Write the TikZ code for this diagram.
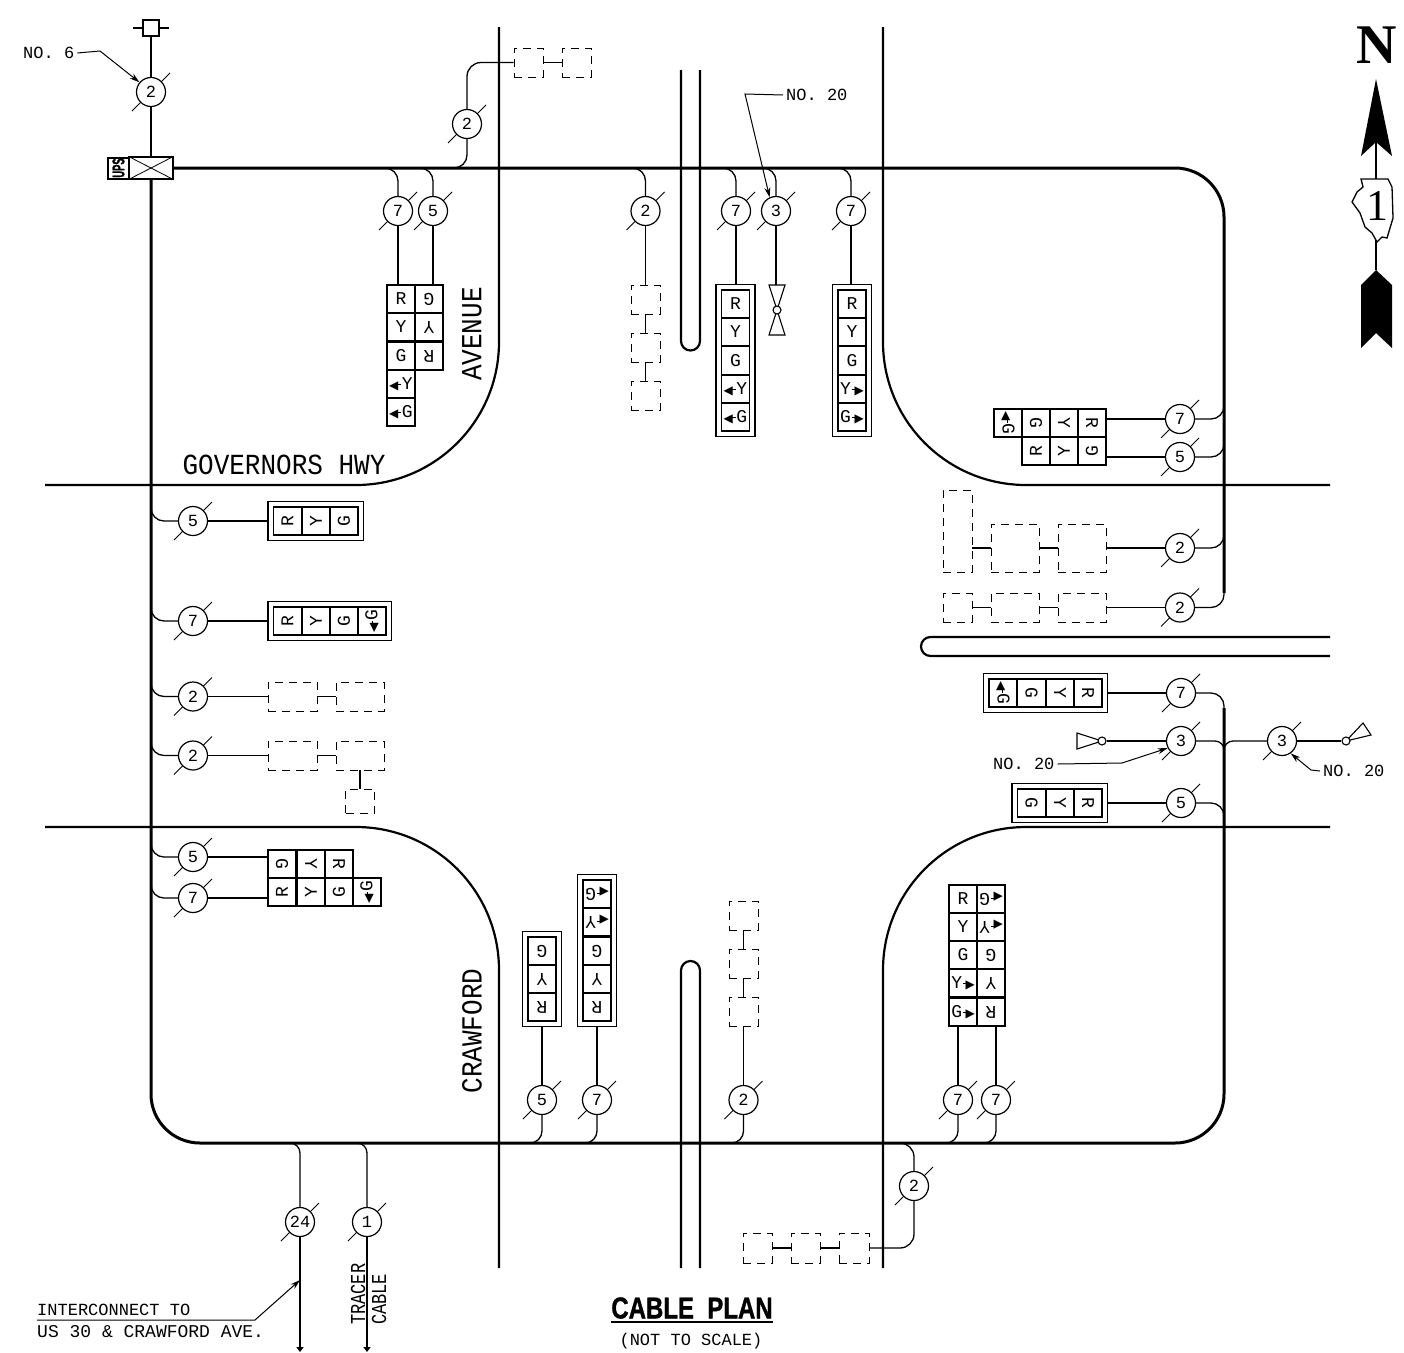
\documentclass[tikz,border=0pt]{standalone}
\usepackage{fontspec}
\setmainfont{Liberation Mono}
\newfontfamily\arrowfont{DejaVu Sans}
\newfontfamily\serifface{Liberation Serif}
\newfontfamily\titleface[UprightFont={* Bold},FakeBold=1.3]{Liberation Sans}
\usetikzlibrary{arrows.meta,calc,fit}

\newcommand{\sz}[1]{\fontsize{#1}{#1}\selectfont}
\newcommand{\larr}[1]{{\arrowfont\sz{12}\symbol{"25C0}}\kern-2pt\rule[4pt]{5pt}{1.6pt}\kern.5pt #1}
\newcommand{\rarr}[1]{#1\kern.5pt\rule[4pt]{5pt}{1.6pt}\kern-2pt{\arrowfont\sz{12}\symbol{"25B6}}}

\tikzset{
  conduit/.style={line width=3pt},
  road/.style={line width=2.2pt},
  cable/.style={line width=1.3pt},
  leader/.style={line width=1pt,-{Stealth[length=10pt,width=6pt]}},
  tag/.style={circle,draw,line width=1.2pt,fill=white,minimum size=29pt,inner sep=0pt,font=\sz{17}},
  sigcell/.style={draw,line width=1.7pt,minimum size=28pt,inner sep=0pt,font=\sz{18}},
  plate/.style={draw,line width=1.6pt,inner sep=4.5pt},
  ghost/.style={draw,line width=.9pt,dash pattern=on 8pt off 6pt,inner sep=0pt},
  label/.style={inner sep=0pt,inner xsep=3pt,font=\sz{17}},
  street/.style={inner sep=0pt,font=\sz{26},yscale=1.12},
  tall/.style={inner sep=0pt,font=\sz{17},yscale=1.25}
}

\newcommand{\cabletag}[4]{
  \draw[line width=1pt] (#2-19,#3+19) -- (#2+19,#3-19);
  \node[tag] (#1) at (#2,#3) {#4};
}
\newcommand{\branchtop}[1]{\draw[cable,rounded corners=13pt] (#1.north) |- ($(#1 |- ctop)+(-13,0)$);}
\newcommand{\branchbot}[1]{\draw[cable,rounded corners=12pt] (#1.south) |- ($(#1 |- cbot)+(-12,0)$);}
\newcommand{\branchwest}[1]{\draw[cable,rounded corners=13pt] (#1.west) -| ($(cleft |- #1)+(0,-14)$);}
\newcommand{\brancheast}[2]{\draw[cable,rounded corners=13pt] (#1.east) -| ($(cright |- #1)+(0,#2)$);}

\begin{document}
\begin{tikzpicture}[x=1pt,y=-1pt]
  \useasboundingbox (0,0) rectangle (1404,1352);

  \coordinate (ctop) at (0,168);
  \coordinate (cbot) at (0,1143);
  \coordinate (cleft) at (151,0);
  \coordinate (cright) at (1224,0);
  \coordinate (neend) at (1224,593);
  \coordinate (seend) at (1224,708);

  % roads
  \draw[road,rounded corners=143pt] (499,27) |- (45,485);
  \draw[road,rounded corners=143pt] (883,27) |- (1330,485);
  \draw[road,rounded corners=143pt] (45,827) -| (499,1268);
  \draw[road,rounded corners=143pt] (1330,827) -| (883,1268);
  \draw[road,rounded corners=9.5pt] (681,70) -- (681,350.5) -- (700,350.5) -- (700,70);
  \draw[road,rounded corners=9.5pt] (681,1268) -- (681,961) -- (700,961) -- (700,1268);
  \draw[road,rounded corners=9.5pt] (1330,637) -- (921,637) -- (921,656) -- (1330,656);

  \node[rotate=90,street] (avenue) at (472,334) {AVENUE};
  \node[rotate=90,street] (crawford) at (472,1031) {CRAWFORD};
  \node[street] (governors) at (284,465) {GOVERNORS HWY};

  % controller and conduit
  \node[draw,line width=1.1pt,minimum width=44pt,minimum height=22pt,inner sep=0pt] (jbox) at (151,168) {};
  \draw[line width=.8pt] (jbox.north west) -- (jbox.south east);
  \draw[line width=.8pt] (jbox.south west) -- (jbox.north east);
  \node[draw,line width=2pt,minimum width=21pt,minimum height=21pt,inner sep=0pt] (ups) at (118.5,168) {};
  \node[rotate=90,xscale=.55,inner sep=0pt,font=\titleface\sz{17}] (upstext) at (ups) {UPS};
  \draw[conduit,rounded corners=49pt] (jbox.east) -- (cright |- ctop) -- (neend);
  \draw[conduit,rounded corners=49pt] (seend) -- (cright |- cbot) -- (cleft |- cbot) -- (jbox.south);

  % service
  \node[draw,line width=1.2pt,minimum size=16pt,inner sep=0pt] (service) at (151,28) {};
  \draw[cable] (service.west) -- ++(-9,0);
  \draw[cable] (service.east) -- ++(9,0);
  \cabletag{tagsvc}{151}{92}{2}
  \draw[cable] (service) -- (tagsvc);
  \draw[cable] (tagsvc) -- (jbox);
  \node[label,anchor=west] (no6) at (20,53) {NO. 6};
  \coordinate (no6bend) at (100,51);
  \draw[leader] (no6.east) -- (no6bend) -- (tagsvc.140);

  % north approach
  \cabletag{tagna}{467}{124}{2}
  \node[ghost,minimum width=29pt,minimum height=29pt] (gna) at (528.5,62.5) {};
  \node[ghost,minimum width=29pt,minimum height=29pt] (gnb) at (576.5,62.5) {};
  \draw[cable,rounded corners=14pt] (tagna.north) |- (gna.west);
  \draw[cable] (gna) -- (gnb);
  \draw[cable,rounded corners=13pt] (tagna.south) |- ($(tagna |- ctop)+(-13,0)$);

  \cabletag{tagnb}{398}{211}{7}
  \cabletag{tagnc}{433}{211}{5}
  \branchtop{tagnb}
  \branchtop{tagnc}
  \node[sigcell] (nwa) at (401,299) {R};
  \node[sigcell] (nwb) at (401,327) {Y};
  \node[sigcell] (nwc) at (401,356) {G};
  \node[sigcell] (nwd) at (401,384) {\larr{Y}};
  \node[sigcell] (nwe) at (401,412) {\larr{G}};
  \node[sigcell,rotate=180] (nwf) at (429,299) {G};
  \node[sigcell,rotate=180] (nwg) at (429,327) {Y};
  \node[sigcell,rotate=180] (nwh) at (429,356) {R};
  \draw[cable] (tagnb.south) -- (tagnb.south |- nwa.north);
  \draw[cable] (tagnc.south) -- (tagnc.south |- nwf.south);

  \cabletag{tagnd}{645.5}{211}{2}
  \branchtop{tagnd}
  \node[ghost,minimum width=29pt,minimum height=29pt] (gnc) at (645.5,299.5) {};
  \node[ghost,minimum width=29pt,minimum height=29pt] (gnd) at (645.5,347.5) {};
  \node[ghost,minimum width=29pt,minimum height=29pt] (gne) at (645.5,395.5) {};
  \draw[cable] (tagnd) -- (gnc);
  \draw[cable] (gnc) -- (gnd);
  \draw[cable] (gnd) -- (gne);

  \cabletag{tagne}{736}{211}{7}
  \branchtop{tagne}
  \node[sigcell] (naa) at (735.5,304) {R};
  \node[sigcell] (nab) at (735.5,332) {Y};
  \node[sigcell] (nac) at (735.5,360.5) {G};
  \node[sigcell] (nad) at (735.5,389) {\larr{Y}};
  \node[sigcell] (nae) at (735.5,417) {\larr{G}};
  \node[plate,fit=(naa)(nae)] (platena) {};
  \draw[cable] (tagne.south) -- (tagne.south |- platena.north);

  \cabletag{tagnf}{776}{211}{3}
  \branchtop{tagnf}
  \coordinate (pednt) at (777,285);
  \draw[cable] (tagnf.south) -- (tagnf.south |- pednt);
  \draw[line width=1.1pt] (769,285) -- (785,285) -- (769,335) -- (785,335) -- cycle;
  \node[circle,draw,line width=1.1pt,fill=white,minimum size=8pt,inner sep=0pt] (pedn) at (777,310) {};
  \node[label,anchor=west] (no20n) at (783,95) {NO. 20};
  \coordinate (no20nbend) at (745,94);
  \draw[leader] (no20n.west) -- (no20nbend) -- (tagnf.115);

  \cabletag{tagng}{851}{211}{7}
  \branchtop{tagng}
  \node[sigcell] (nba) at (852,304) {R};
  \node[sigcell] (nbb) at (852,332) {Y};
  \node[sigcell] (nbc) at (852,360.5) {G};
  \node[sigcell] (nbd) at (852,389) {\rarr{Y}};
  \node[sigcell] (nbe) at (852,417) {\rarr{G}};
  \node[plate,fit=(nba)(nbe)] (platenb) {};
  \draw[cable] (tagng.south) -- (tagng.south |- platenb.north);

  % east approach
  \cabletag{tagea}{1180}{419}{7}
  \cabletag{tageb}{1180}{457}{5}
  \brancheast{tagea}{-15}
  \brancheast{tageb}{-15}
  \node[sigcell,rotate=-90] (nea) at (1008,423) {\larr{G}};
  \node[sigcell,rotate=-90] (neb) at (1036,423) {G};
  \node[sigcell,rotate=-90] (nec) at (1064,423) {Y};
  \node[sigcell,rotate=-90] (ned) at (1092,423) {R};
  \node[sigcell,rotate=90] (nee) at (1036,451) {R};
  \node[sigcell,rotate=90] (nef) at (1064,451) {Y};
  \node[sigcell,rotate=90] (neg) at (1092,451) {G};
  \draw[cable] (tagea.west) -- (tagea.west -| ned.north);
  \draw[cable] (tageb.west) -- (tageb.west -| neg.south);

  \cabletag{tagec}{1180}{548}{2}
  \brancheast{tagec}{-15}
  \node[ghost,minimum width=29pt,minimum height=82pt] (gea) at (957.5,531) {};
  \node[ghost,minimum width=48pt,minimum height=48pt] (geb) at (1015,548) {};
  \node[ghost,minimum width=48pt,minimum height=48pt] (gec) at (1082,548) {};
  \draw[cable] (gea.east |- geb) -- (geb);
  \draw[cable] (geb) -- (gec);
  \draw[cable] (gec) -- (tagec);

  \cabletag{taged}{1180}{607.5}{2}
  \brancheast{taged}{-15}
  \node[ghost,minimum width=29pt,minimum height=29pt] (ged) at (957.5,607.5) {};
  \node[ghost,minimum width=48pt,minimum height=29pt] (gee) at (1015,607.5) {};
  \node[ghost,minimum width=48pt,minimum height=29pt] (gef) at (1082,607.5) {};
  \draw[cable] (ged) -- (gee);
  \draw[cable] (gee) -- (gef);
  \draw[cable] (gef) -- (taged);

  \cabletag{tagee}{1181}{693}{7}
  \brancheast{tagee}{15}
  \node[sigcell,rotate=-90] (eaa) at (1003,693) {\larr{G}};
  \node[sigcell,rotate=-90] (eab) at (1031.5,693) {G};
  \node[sigcell,rotate=-90] (eac) at (1060,693) {Y};
  \node[sigcell,rotate=-90] (ead) at (1088,693) {R};
  \node[plate,fit=(eaa)(ead)] (plateea) {};
  \draw[cable] (plateea) -- (tagee);

  \cabletag{tagef}{1181}{741}{3}
  \draw[cable,rounded corners=9pt] (tagef.east) -| ($(cright |- tagef)+(0,9)$);
  \draw[line width=1.1pt] (1102,741) -- (1077,733) -- (1077,749) -- cycle;
  \node[circle,draw,line width=1.1pt,fill=white,minimum size=8pt,inner sep=0pt] (pede) at (1102,741) {};
  \draw[cable] (pede) -- (tagef);
  \node[label,anchor=west] (no20e) at (990,764) {NO. 20};
  \coordinate (no20ebend) at (1122,763);
  \draw[leader] (no20e.east) -- (no20ebend) -- (tagef.208);

  \cabletag{tageg}{1282}{741}{3}
  \draw[cable,rounded corners=9pt] (tageg.west) -| ($(cright |- tageg)+(0,9)$);
  \draw[line width=1.1pt] (1346,741) -- (1363,723) -- (1371,735) -- cycle;
  \node[circle,draw,line width=1.1pt,fill=white,minimum size=8pt,inner sep=0pt] (pedf) at (1346,741) {};
  \draw[cable] (tageg) -- (pedf);
  \node[label,anchor=west] (no20f) at (1320,771) {NO. 20};
  \coordinate (no20fbend) at (1311,770);
  \draw[leader] (no20f.west) -- (no20fbend) -- (tageg.-55);

  \cabletag{tageh}{1181}{803}{5}
  \brancheast{tageh}{15}
  \node[sigcell,rotate=-90] (eba) at (1031.5,803) {G};
  \node[sigcell,rotate=-90] (ebb) at (1060,803) {Y};
  \node[sigcell,rotate=-90] (ebc) at (1088,803) {R};
  \node[plate,fit=(eba)(ebc)] (plateeb) {};
  \draw[cable] (plateeb) -- (tageh);

  % west approach
  \cabletag{tagwa}{193}{521}{5}
  \branchwest{tagwa}
  \node[sigcell,rotate=90] (waa) at (287.5,521) {R};
  \node[sigcell,rotate=90] (wab) at (316,521) {Y};
  \node[sigcell,rotate=90] (wac) at (344,521) {G};
  \node[plate,fit=(waa)(wac)] (platewa) {};
  \draw[cable] (tagwa) -- (platewa);

  \cabletag{tagwb}{193}{621}{7}
  \branchwest{tagwb}
  \node[sigcell,rotate=90] (wba) at (287.5,621) {R};
  \node[sigcell,rotate=90] (wbb) at (316,621) {Y};
  \node[sigcell,rotate=90] (wbc) at (344,621) {G};
  \node[sigcell,rotate=90] (wbd) at (372,621) {\larr{G}};
  \node[plate,fit=(wba)(wbd)] (platewb) {};
  \draw[cable] (tagwb) -- (platewb);

  \cabletag{tagwc}{193}{696.5}{2}
  \branchwest{tagwc}
  \node[ghost,minimum width=49pt,minimum height=29pt] (gwa) at (292.5,696.5) {};
  \node[ghost,minimum width=48pt,minimum height=29pt] (gwb) at (360,696.5) {};
  \draw[cable] (tagwc) -- (gwa);
  \draw[cable] (gwa) -- (gwb);

  \cabletag{tagwd}{193}{755.5}{2}
  \branchwest{tagwd}
  \node[ghost,minimum width=49pt,minimum height=29pt] (gwc) at (292.5,755.5) {};
  \node[ghost,minimum width=48pt,minimum height=29pt] (gwd) at (360,755.5) {};
  \node[ghost,minimum width=29pt,minimum height=24pt] (gwe) at (360,801) {};
  \draw[cable] (tagwd) -- (gwc);
  \draw[cable] (gwc) -- (gwd);
  \draw[cable] (gwd) -- (gwe);

  \cabletag{tagwe}{193}{857}{5}
  \cabletag{tagwf}{193}{898}{7}
  \branchwest{tagwe}
  \branchwest{tagwf}
  \node[sigcell,rotate=-90] (swa) at (282,864) {G};
  \node[sigcell,rotate=-90] (swb) at (311,864) {Y};
  \node[sigcell,rotate=-90] (swc) at (339,864) {R};
  \node[sigcell,rotate=90] (swd) at (282,892) {R};
  \node[sigcell,rotate=90] (swe) at (311,892) {Y};
  \node[sigcell,rotate=90] (swf) at (339,892) {G};
  \node[sigcell,rotate=90] (swg) at (367,892) {\larr{G}};
  \draw[cable] (tagwe.east) -- (tagwe.east -| swa.south);
  \draw[cable] (tagwf.east) -- (tagwf.east -| swd.north);

  % south approach
  \cabletag{tagsa}{542}{1100}{5}
  \branchbot{tagsa}
  \node[sigcell,rotate=180] (saa) at (542,951) {G};
  \node[sigcell,rotate=180] (sab) at (542,979) {Y};
  \node[sigcell,rotate=180] (sac) at (542,1007) {R};
  \node[plate,fit=(saa)(sac)] (platesa) {};
  \draw[cable] (tagsa) -- (platesa);

  \cabletag{tagsb}{597}{1100}{7}
  \branchbot{tagsb}
  \node[sigcell,rotate=180] (sba) at (597,894) {\larr{G}};
  \node[sigcell,rotate=180] (sbb) at (597,922) {\larr{Y}};
  \node[sigcell,rotate=180] (sbc) at (597,951) {G};
  \node[sigcell,rotate=180] (sbd) at (597,979) {Y};
  \node[sigcell,rotate=180] (sbe) at (597,1007) {R};
  \node[plate,fit=(sba)(sbe)] (platesb) {};
  \draw[cable] (tagsb) -- (platesb);

  \cabletag{tagsc}{743.5}{1100}{2}
  \branchbot{tagsc}
  \node[ghost,minimum width=29pt,minimum height=29pt] (gsa) at (743.5,915.5) {};
  \node[ghost,minimum width=29pt,minimum height=29pt] (gsb) at (743.5,963.5) {};
  \node[ghost,minimum width=29pt,minimum height=29pt] (gsc) at (743.5,1011.5) {};
  \draw[cable] (gsa) -- (gsb);
  \draw[cable] (gsb) -- (gsc);
  \draw[cable] (gsc) -- (tagsc);

  \cabletag{tagsd}{958}{1100}{7}
  \cabletag{tagse}{996}{1100}{7}
  \branchbot{tagsd}
  \branchbot{tagse}
  \node[sigcell] (sea) at (963,899) {R};
  \node[sigcell] (seb) at (963,927) {Y};
  \node[sigcell] (sec) at (963,955) {G};
  \node[sigcell] (sed) at (963,983) {\rarr{Y}};
  \node[sigcell] (see) at (963,1012) {\rarr{G}};
  \node[sigcell,rotate=180] (sef) at (991,899) {\larr{G}};
  \node[sigcell,rotate=180] (seg) at (991,927) {\larr{Y}};
  \node[sigcell,rotate=180] (seh) at (991,955) {G};
  \node[sigcell,rotate=180] (sei) at (991,983) {Y};
  \node[sigcell,rotate=180] (sej) at (991,1012) {R};
  \draw[cable] (tagsd.north) -- (tagsd.north |- see.south);
  \draw[cable] (tagse.north) -- (tagse.north |- sej.north);

  \cabletag{tagsf}{914}{1186}{2}
  \draw[cable,rounded corners=14pt] (tagsf.north) |- ($(tagsf |- cbot)+(-14,0)$);
  \node[ghost,minimum width=29pt,minimum height=30pt] (gsd) at (757.5,1248) {};
  \node[ghost,minimum width=29pt,minimum height=30pt] (gse) at (805.5,1248) {};
  \node[ghost,minimum width=30pt,minimum height=30pt] (gsf) at (854,1248) {};
  \draw[cable] (gsd) -- (gse);
  \draw[cable] (gse) -- (gsf);
  \draw[cable,rounded corners=14pt] (tagsf.south) |- (gsf.east);

  % interconnect and tracer
  \cabletag{tagic}{300}{1222}{24}
  \cabletag{tagtr}{367}{1222}{1}
  \draw[cable,rounded corners=10pt] (tagic.north) |- ($(tagic |- cbot)+(-10,0)$);
  \draw[cable,rounded corners=10pt] (tagtr.north) |- ($(tagtr |- cbot)+(-10,0)$);
  \coordinate (icend) at (300,1352);
  \coordinate (trend) at (367,1352);
  \draw[cable,-{Stealth[length=5pt,width=7pt,inset=0pt]}] (tagic.south) -- (icend);
  \draw[cable,-{Stealth[length=5pt,width=7pt,inset=0pt]}] (tagtr.south) -- (trend);
  \coordinate (ilstart) at (37,1320);
  \coordinate (ilbend) at (255,1320);
  \coordinate (ilend) at (300,1280);
  \draw[leader] (ilstart) -- (ilbend) -- (ilend);
  \node[label,anchor=west] (interconnect) at (34,1310) {INTERCONNECT TO};
  \node[label,anchor=west,font=\sz{18}] (usthirty) at (34,1332) {US 30 \& CRAWFORD AVE.};
  \node[rotate=90,anchor=west,tall] (tracer) at (358,1325) {TRACER};
  \node[rotate=90,anchor=west,tall] (cablet) at (379,1325) {CABLE};

  % title
  \node[inner sep=0pt,font=\titleface\sz{30},xscale=.8] (title) at (692,1308) {CABLE\ \ PLAN};
  \draw[line width=1.6pt] (title.south west) ++(0,3) -- ($(title.south east)+(0,3)$);
  \node[label] (nts) at (691,1341) {(NOT TO SCALE)};

  % north arrow
  \node[inner sep=0pt,font=\serifface\bfseries\sz{56}] (north) at (1377,45) {N};
  \fill (1376,79) -- (1392,156) -- (1376,142) -- (1361,156) -- cycle;
  \fill (1376,270) -- (1392,285) -- (1392,348) -- (1376,333) -- (1361,348) -- (1361,285) -- cycle;
  \draw[line width=1.3pt] (1376,142) -- (1376,270);
  \draw[line width=1.3pt,fill=white] (1361,179) -- (1388,179) -- (1392,187) -- (1393,218) -- (1390,228) -- (1387,238) -- (1382,237) -- (1377,242) -- (1372,233) -- (1365,227) -- (1360,213) -- (1352,202) -- (1357,192) -- (1363,187) -- cycle;
  \node[inner sep=0pt,font=\serifface\sz{44}] (shield) at (1377,206) {1};
\end{tikzpicture}
\end{document}
